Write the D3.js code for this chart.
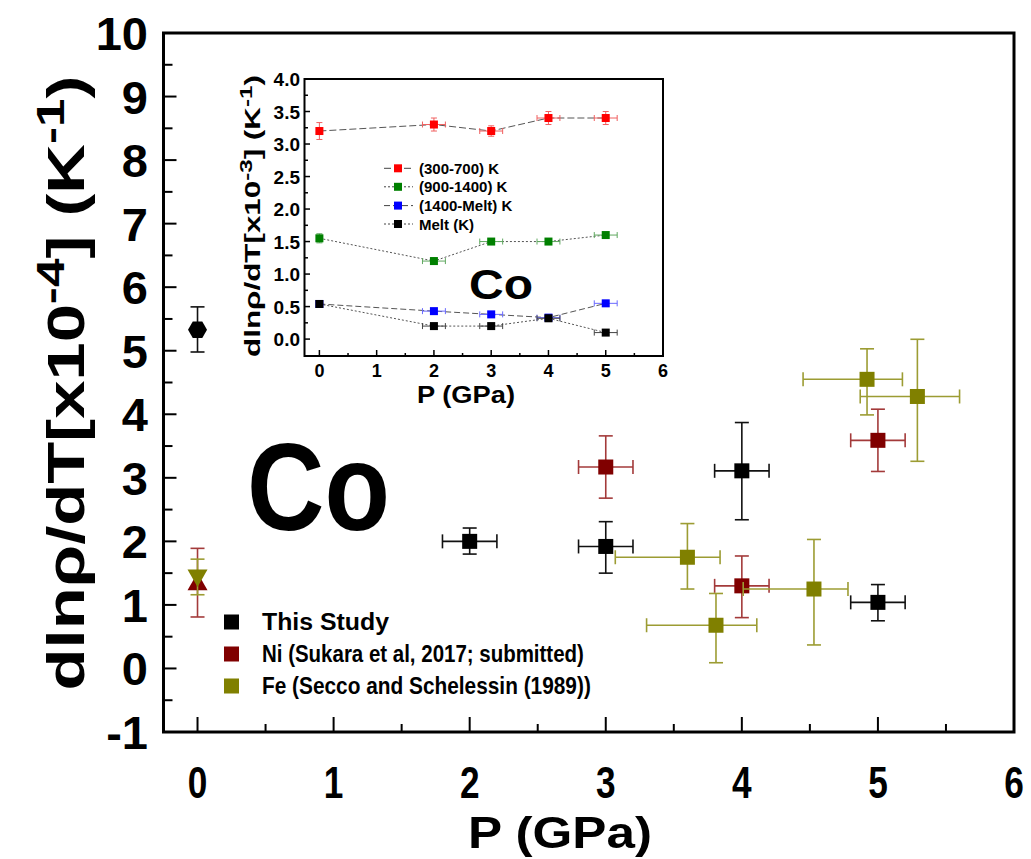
<!DOCTYPE html>
<html>
<head>
<meta charset="utf-8">
<script src="https://cdn.jsdelivr.net/npm/d3@7"></script>
<style>
  html, body { margin: 0; padding: 0; background: #fff; }
  svg { display: block; font-family: Arial, "Liberation Sans", Helvetica, sans-serif; font-weight: bold; }
</style>
</head>
<body>
<svg id="chart" width="1031" height="859"></svg>
<script>
// ---- Main panel data: dlnρ/dT (x10^-4 K^-1) vs pressure (GPa) ----
const studyP     = [2, 3, 4, 5];
const studyV     = [2.00, 1.92, 3.11, 1.04];
const studyYLo   = [1.80, 1.50, 2.34, 0.75];
const studyYHi   = [2.21, 2.31, 3.87, 1.32];
const studyXLo   = [1.80, 2.80, 3.80, 4.80];
const studyXHi   = [2.20, 3.20, 4.20, 5.20];

const studyHexP   = [0];
const studyHexV   = [5.33];
const studyHexYLo = [4.98];
const studyHexYHi = [5.69];

const niP   = [3, 4, 5];
const niV   = [3.17, 1.30, 3.59];
const niYLo = [2.68, 0.80, 3.10];
const niYHi = [3.66, 1.77, 4.08];
const niXLo = [2.80, 3.80, 4.80];
const niXHi = [3.20, 4.20, 5.20];

const niTriP   = [0];
const niTriV   = [1.35];
const niTriYLo = [0.81];
const niTriYHi = [1.89];

const feP   = [4.92, 5.29, 3.60, 3.81, 4.53];
const feV   = [4.55, 4.28, 1.75, 0.68, 1.25];
const feYLo = [3.99, 3.26, 1.25, 0.09, 0.37];
const feYHi = [5.03, 5.18, 2.28, 1.18, 2.03];
const feXLo = [4.45, 4.87, 3.07, 3.30, 4.01];
const feXHi = [5.18, 5.60, 3.84, 4.11, 4.78];

const feTriP   = [0];
const feTriV   = [1.44];
const feTriYLo = [1.16];
const feTriYHi = [1.72];

const mainXTicks = [0, 1, 2, 3, 4, 5, 6];
const mainYTicks = [-1, 0, 1, 2, 3, 4, 5, 6, 7, 8, 9, 10];
const legendLabels = ["This Study", "Ni (Sukara et al, 2017; submitted)", "Fe (Secco and Schelessin (1989))"];

// ---- Inset data: dlnρ/dT (x10^-3 K^-1) per temperature range ----
const insetP       = [0, 2, 3, 4, 5];
const insetXErr    = [0, 0.2, 0.2, 0.2, 0.2];
const range300_700   = [3.20, 3.30, 3.20, 3.40, 3.40];
const range300_700E  = [0.13, 0.10, 0.08, 0.10, 0.10];
const range900_1400  = [1.55, 1.20, 1.50, 1.50, 1.60];
const range900_1400E = [0.07, 0.05, 0.03, 0.03, 0.03];
const range1400_melt = [0.54, 0.43, 0.38, 0.33, 0.55];
const range1400_meltE= [0.03, 0.03, 0.03, 0.03, 0.03];
const rangeMelt      = [0.54, 0.20, 0.20, 0.32, 0.10];
const rangeMeltE     = [0.03, 0.03, 0.03, 0.03, 0.03];
const insetLabels  = ["(300-700) K", "(900-1400) K", "(1400-Melt) K", "Melt (K)"];
const insetXTicks  = [0, 1, 2, 3, 4, 5, 6];
const insetYTicks  = [0, 0.5, 1, 1.5, 2, 2.5, 3, 3.5, 4];

const COL_BLACK = "#000000", COL_NI = "#800000", COL_FE = "#808000";
const ERR_NI = "#a33a3a", ERR_FE = "#9c9c33";

const svg = d3.select("#chart");

// Scale factor that stretches a text element along its own length to `target` pixels.
function fitText(sel, target) {
  const w = sel.node().getComputedTextLength();
  return w > 0 ? target / w : 1;
}

// ================= MAIN PANEL =================
const x = d3.scaleLinear().domain([-0.25, 6]).range([163.5, 1014]);
const y = d3.scaleLinear().domain([-1, 10]).range([732, 33]);

const main = svg.append("g");

// ticks (inward, left and bottom only)
const xMinor = d3.range(0.5, 6, 1);
main.append("g").selectAll("line").data(mainXTicks).join("line")
  .attr("x1", d => x(d)).attr("x2", d => x(d))
  .attr("y1", y(-1)).attr("y2", y(-1) - 15)
  .attr("stroke", "#000").attr("stroke-width", 2);
main.append("g").selectAll("line").data(xMinor).join("line")
  .attr("x1", d => x(d)).attr("x2", d => x(d))
  .attr("y1", y(-1)).attr("y2", y(-1) - 8)
  .attr("stroke", "#000").attr("stroke-width", 2);
const yMinor = d3.range(-0.5, 10, 1);
main.append("g").selectAll("line").data(mainYTicks).join("line")
  .attr("x1", x(-0.25)).attr("x2", x(-0.25) + 13)
  .attr("y1", d => y(d)).attr("y2", d => y(d))
  .attr("stroke", "#000").attr("stroke-width", 2);
main.append("g").selectAll("line").data(yMinor).join("line")
  .attr("x1", x(-0.25)).attr("x2", x(-0.25) + 9)
  .attr("y1", d => y(d)).attr("y2", d => y(d))
  .attr("stroke", "#000").attr("stroke-width", 2);

// tick labels (x labels slightly condensed)
main.append("g").selectAll("text").data(mainXTicks).join("text")
  .attr("transform", d => `translate(${x(d)},798) scale(0.8,1)`)
  .attr("text-anchor", "middle").attr("font-size", 44)
  .text(d => d);
main.append("g").selectAll("text").data(mainYTicks).join("text")
  .attr("x", 148).attr("y", d => y(d) + 17)
  .attr("text-anchor", "end").attr("font-size", 47)
  .text(d => d);

// axis titles
const xTitle = main.append("text").attr("text-anchor", "middle").attr("font-size", 47).text("P (GPa)");
{
  const k = fitText(xTitle, 184);
  xTitle.attr("transform", `translate(560,848) scale(${k},0.96)`);
}

const yTitle = main.append("text").attr("text-anchor", "middle")
  .attr("font-size", 51).attr("dominant-baseline", "central");
yTitle.append("tspan").text("dlnρ/dT[x10");
yTitle.append("tspan").attr("font-size", 38).attr("dy", -15).text("-4");
yTitle.append("tspan").attr("dy", 15).text("] (K");
yTitle.append("tspan").attr("font-size", 38).attr("dy", -15).text("-1");
yTitle.append("tspan").attr("dy", 15).text(")");
{
  const k = fitText(yTitle, 615);
  yTitle.attr("transform", `translate(66,383) rotate(-90) scale(${k},1)`);
}

// big element label
const bigCo = main.append("text").attr("font-size", 124).attr("text-anchor", "start").text("Co");
{
  const k = fitText(bigCo, 143);
  bigCo.attr("transform", `translate(247,530) scale(${k},1)`);
}

// error bars with caps
function errorBars(g, px, pv, xlo, xhi, ylo, yhi, color, sx, sy, cap, sw) {
  const n = px.length;
  for (let i = 0; i < n; i++) {
    if (ylo && yhi) {
      g.append("line").attr("x1", sx(px[i])).attr("x2", sx(px[i]))
        .attr("y1", sy(ylo[i])).attr("y2", sy(yhi[i]))
        .attr("stroke", color).attr("stroke-width", sw);
      [ylo[i], yhi[i]].forEach(v => g.append("line")
        .attr("x1", sx(px[i]) - cap).attr("x2", sx(px[i]) + cap)
        .attr("y1", sy(v)).attr("y2", sy(v))
        .attr("stroke", color).attr("stroke-width", sw));
    }
    if (xlo && xhi && xhi[i] > xlo[i]) {
      g.append("line").attr("x1", sx(xlo[i])).attr("x2", sx(xhi[i]))
        .attr("y1", sy(pv[i])).attr("y2", sy(pv[i]))
        .attr("stroke", color).attr("stroke-width", sw);
      [xlo[i], xhi[i]].forEach(v => g.append("line")
        .attr("x1", sx(v)).attr("x2", sx(v))
        .attr("y1", sy(pv[i]) - cap).attr("y2", sy(pv[i]) + cap)
        .attr("stroke", color).attr("stroke-width", sw));
    }
  }
}
function squares(g, px, pv, color, sx, sy, size) {
  g.selectAll(null).data(px.map((p, i) => [p, pv[i]])).join("rect")
    .attr("x", d => sx(d[0]) - size / 2).attr("y", d => sy(d[1]) - size / 2)
    .attr("width", size).attr("height", size).attr("fill", color);
}
function triangle(g, px, pv, color, up, half) {
  g.selectAll(null).data(px.map((p, i) => [p, pv[i]])).join("path")
    .attr("d", d => {
      const cx = x(d[0]), cy = y(d[1]), h = half;
      return up
        ? `M${cx},${cy - h}L${cx + half},${cy + h * 0.75}L${cx - half},${cy + h * 0.75}Z`
        : `M${cx},${cy + h}L${cx + half},${cy - h * 0.75}L${cx - half},${cy - h * 0.75}Z`;
    })
    .attr("fill", color);
}

const dataG = main.append("g");
// This study
errorBars(dataG, studyP, studyV, studyXLo, studyXHi, studyYLo, studyYHi, "#111", x, y, 7, 1.6);
errorBars(dataG, studyHexP, studyHexV, null, null, studyHexYLo, studyHexYHi, "#111", x, y, 7, 1.6);
squares(dataG, studyP, studyV, COL_BLACK, x, y, 15);
dataG.selectAll(null).data(studyHexP.map((p, i) => [p, studyHexV[i]])).join("path")
  .attr("d", d => {
    const cx = x(d[0]), cy = y(d[1]), r = 9.5;
    const pts = d3.range(6).map(k => [cx + r * Math.cos(k * Math.PI / 3), cy + r * Math.sin(k * Math.PI / 3)]);
    return "M" + pts.map(p => p.join(",")).join("L") + "Z";
  })
  .attr("fill", COL_BLACK);

// Ni
errorBars(dataG, niP, niV, niXLo, niXHi, niYLo, niYHi, ERR_NI, x, y, 7, 1.6);
errorBars(dataG, niTriP, niTriV, null, null, niTriYLo, niTriYHi, ERR_NI, x, y, 7, 1.6);
squares(dataG, niP, niV, COL_NI, x, y, 15);
triangle(dataG, niTriP, niTriV, COL_NI, true, 10);

// Fe
errorBars(dataG, feP, feV, feXLo, feXHi, feYLo, feYHi, ERR_FE, x, y, 7, 1.6);
errorBars(dataG, feTriP, feTriV, null, null, feTriYLo, feTriYHi, ERR_FE, x, y, 7, 1.6);
squares(dataG, feP, feV, COL_FE, x, y, 15);
triangle(dataG, feTriP, feTriV, COL_FE, false, 10);

// legend
const legColors = [COL_BLACK, COL_NI, COL_FE];
const legRows = [622, 654, 686];
const legWidths = [127, 322, 329];
const leg = main.append("g");
legendLabels.forEach((t, i) => {
  leg.append("rect").attr("x", 224).attr("y", legRows[i] - 7.5)
    .attr("width", 15).attr("height", 15).attr("fill", legColors[i]);
  const lt = leg.append("text").attr("font-size", 23).text(t);
  const k = fitText(lt, legWidths[i]);
  lt.attr("transform", `translate(262,${legRows[i] + 8}) scale(${k},1)`);
});

// frame
main.append("rect").attr("x", 163.5).attr("y", 33).attr("width", 1014 - 163.5).attr("height", 732 - 33)
  .attr("fill", "none").attr("stroke", "#000").attr("stroke-width", 3);

// ================= INSET =================
const ix = d3.scaleLinear().domain([-0.26, 6]).range([304.5, 663]);
const iy = d3.scaleLinear().domain([-0.26, 4]).range([356, 79]);
const inset = svg.append("g");
inset.append("rect").attr("x", 304.5).attr("y", 79).attr("width", 663 - 304.5).attr("height", 356 - 79)
  .attr("fill", "#fff");

const ixMinor = d3.range(0.5, 6, 1);
inset.selectAll(null).data(insetXTicks).join("line")
  .attr("x1", d => ix(d)).attr("x2", d => ix(d)).attr("y1", 356).attr("y2", 350)
  .attr("stroke", "#000").attr("stroke-width", 1.5);
inset.selectAll(null).data(ixMinor).join("line")
  .attr("x1", d => ix(d)).attr("x2", d => ix(d)).attr("y1", 356).attr("y2", 353)
  .attr("stroke", "#000").attr("stroke-width", 1.5);
const iyMinor = d3.range(0.25, 4, 0.5);
inset.selectAll(null).data(insetYTicks).join("line")
  .attr("x1", 304.5).attr("x2", 310).attr("y1", d => iy(d)).attr("y2", d => iy(d))
  .attr("stroke", "#000").attr("stroke-width", 1.5);
inset.selectAll(null).data(iyMinor).join("line")
  .attr("x1", 304.5).attr("x2", 308).attr("y1", d => iy(d)).attr("y2", d => iy(d))
  .attr("stroke", "#000").attr("stroke-width", 1.5);

inset.selectAll(null).data(insetXTicks).join("text")
  .attr("x", d => ix(d)).attr("y", 377).attr("text-anchor", "middle")
  .attr("font-size", 18).text(d => d);
inset.selectAll(null).data(insetYTicks).join("text")
  .attr("x", 300).attr("y", d => iy(d) + 7).attr("text-anchor", "end")
  .attr("font-size", 19).text(d => d.toFixed(1));

const ixTitle = inset.append("text").attr("text-anchor", "middle").attr("font-size", 23).text("P (GPa)");
{
  const k = fitText(ixTitle, 98);
  ixTitle.attr("transform", `translate(466,403) scale(${k},1)`);
}

const iyTitle = inset.append("text").attr("text-anchor", "middle")
  .attr("font-size", 22).attr("dominant-baseline", "central");
iyTitle.append("tspan").text("dlnρ/dT[x10");
iyTitle.append("tspan").attr("font-size", 17).attr("dy", -7).text("-3");
iyTitle.append("tspan").attr("dy", 7).text("] (K");
iyTitle.append("tspan").attr("font-size", 17).attr("dy", -7).text("-1");
iyTitle.append("tspan").attr("dy", 7).text(")");
{
  const k = fitText(iyTitle, 282);
  iyTitle.attr("transform", `translate(252,216) rotate(-90) scale(${k},1)`);
}

const smallCo = inset.append("text").attr("font-size", 42).text("Co");
{
  const k = fitText(smallCo, 64);
  smallCo.attr("transform", `translate(469,299) scale(${k},1)`);
}

const insetSeries = [
  { v: range300_700,  e: range300_700E,  color: "#ff0000", err: "#f06060", dash: "7,3" },
  { v: range900_1400, e: range900_1400E, color: "#008000", err: "#60a860", dash: "2,2" },
  { v: range1400_melt,e: range1400_meltE,color: "#0000ff", err: "#6a6aff", dash: "6,3" },
  { v: rangeMelt,     e: rangeMeltE,     color: "#000000", err: "#444",    dash: "2,2" }
];
const iline = d3.line().x(d => ix(d[0])).y(d => iy(d[1]));
insetSeries.forEach(s => {
  inset.append("path").datum(insetP.map((p, i) => [p, s.v[i]]))
    .attr("d", iline).attr("fill", "none").attr("stroke", "#555")
    .attr("stroke-width", 1).attr("stroke-dasharray", s.dash);
});
insetSeries.forEach(s => {
  errorBars(inset, insetP, s.v,
    insetP.map((p, i) => p - insetXErr[i]), insetP.map((p, i) => p + insetXErr[i]),
    s.v.map((v, i) => v - s.e[i]), s.v.map((v, i) => v + s.e[i]),
    s.err, ix, iy, 3, 1);
  squares(inset, insetP, s.v, s.color, ix, iy, 8);
});

// inset legend
const iRows = [168.3, 186.8, 205.6, 224];
insetLabels.forEach((t, i) => {
  inset.append("line").attr("x1", 384).attr("x2", 413).attr("y1", iRows[i]).attr("y2", iRows[i])
    .attr("stroke", "#444").attr("stroke-width", 1).attr("stroke-dasharray", insetSeries[i].dash);
  inset.append("rect").attr("x", 394).attr("y", iRows[i] - 4).attr("width", 8).attr("height", 8)
    .attr("fill", insetSeries[i].color);
  inset.append("text").attr("x", 419).attr("y", iRows[i] + 5.5).attr("font-size", 15).text(t);
});

inset.append("rect").attr("x", 304.5).attr("y", 79).attr("width", 663 - 304.5).attr("height", 356 - 79)
  .attr("fill", "none").attr("stroke", "#000").attr("stroke-width", 2);
</script>
</body>
</html>
